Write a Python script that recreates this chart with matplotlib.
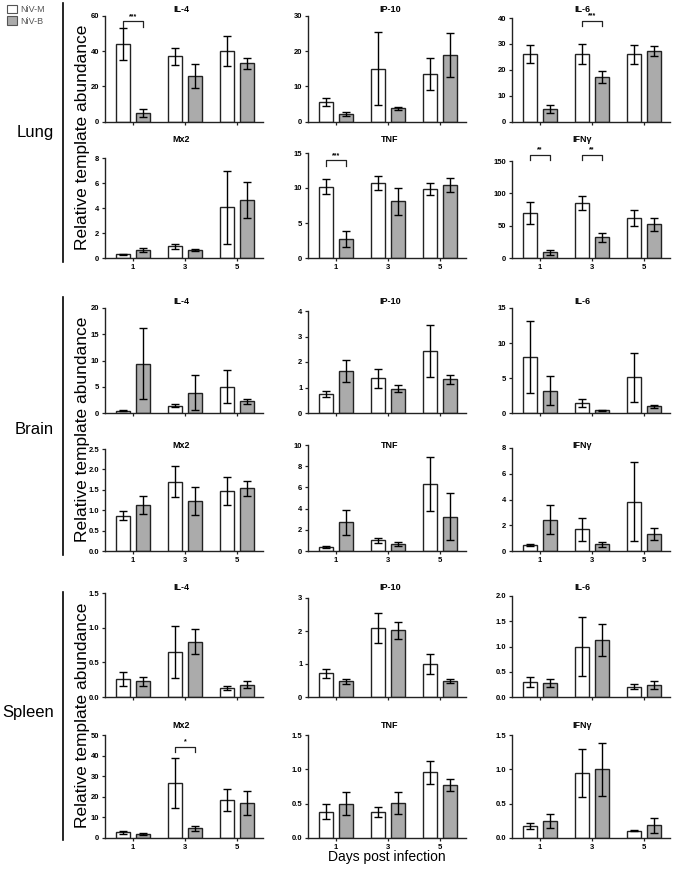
import numpy as np
import matplotlib
matplotlib.use('Agg')
import matplotlib.pyplot as plt
from matplotlib.patches import Patch

plt.rcParams['font.family'] = ['Liberation Sans', 'DejaVu Sans']

# ---------------- data ----------------
days = ['1', '3', '5']
series = ['NiV-M', 'NiV-B']
organs = ['Lung', 'Brain', 'Spleen']
cytokines = ['IL-4', 'IP-10', 'IL-6', 'Mx2', 'TNF', 'IFNγ']

# order of inner lists follows `cytokines`; values per day 1, 3, 5
lung_m = [[44, 37, 40], [5.5, 15, 13.5], [26, 26, 26], [0.3, 0.93, 4.05], [10.2, 10.7, 9.85], [69, 85, 62.5]]
lung_m_err = [[9, 5, 8.4], [1.2, 10.4, 4.6], [3.5, 3.8, 3.6], [0.05, 0.18, 2.9], [1.1, 1.0, 0.8], [17, 11.5, 12.5]]
lung_b = [[5, 26, 33], [2.1, 3.7, 19], [4.8, 17.2, 27.2], [0.62, 0.64, 4.65], [2.7, 8.1, 10.5], [9, 32, 52]]
lung_b_err = [[2.3, 6.7, 3.3], [0.5, 0.5, 6.3], [1.6, 2.5, 1.9], [0.17, 0.08, 1.47], [1.1, 1.9, 1.0], [4, 6.6, 9.5]]

brain_m = [[0.45, 1.4, 5.0], [0.75, 1.36, 2.42], [8.0, 1.4, 5.1], [0.87, 1.7, 1.47], [0.38, 1.0, 6.35], [0.47, 1.69, 3.84]]
brain_m_err = [[0.1, 0.3, 3.1], [0.13, 0.36, 1.02], [5.1, 0.55, 3.5], [0.12, 0.38, 0.34], [0.05, 0.23, 2.56], [0.1, 0.91, 3.1]]
brain_b = [[9.4, 3.9, 2.2], [1.65, 0.96, 1.32], [3.2, 0.38, 0.95], [1.12, 1.23, 1.54], [2.7, 0.69, 3.24], [2.42, 0.52, 1.3]]
brain_b_err = [[6.8, 3.3, 0.5], [0.42, 0.14, 0.18], [2.1, 0.1, 0.24], [0.22, 0.35, 0.18], [1.2, 0.19, 2.2], [1.12, 0.2, 0.45]]

spleen_m = [[0.26, 0.65, 0.125], [0.72, 2.1, 1.0], [0.3, 1.0, 0.2], [2.7, 26.6, 18.5], [0.38, 0.38, 0.955], [0.175, 0.95, 0.107]]
spleen_m_err = [[0.1, 0.37, 0.03], [0.13, 0.45, 0.3], [0.095, 0.58, 0.05], [0.55, 12.1, 5.2], [0.11, 0.07, 0.17], [0.037, 0.35, 0.01]]
spleen_b = [[0.23, 0.8, 0.18], [0.48, 2.02, 0.48], [0.275, 1.13, 0.24], [1.95, 4.7, 17], [0.5, 0.51, 0.77], [0.243, 1.0, 0.185]]
spleen_b_err = [[0.065, 0.18, 0.045], [0.08, 0.25, 0.07], [0.075, 0.31, 0.08], [0.45, 1.2, 6], [0.17, 0.16, 0.09], [0.1, 0.39, 0.105]]

# y-axis top and tick step per panel
lung_ymax = [60, 30, 40, 8, 15, 150]
lung_ystep = [20, 10, 10, 2, 5, 50]
brain_ymax = [20, 4, 15, 2.5, 10, 8]
brain_ystep = [5, 1, 5, 0.5, 2, 2]
spleen_ymax = [1.5, 3, 2.0, 50, 1.5, 1.5]
spleen_ystep = [0.5, 1, 0.5, 10, 0.5, 0.5]

# significance: organ, cytokine, day index, label, bracket height (data units)
sig_marks = [
    ('Lung', 'IL-4', 0, '***', 57),
    ('Lung', 'IL-6', 1, '***', 39),
    ('Lung', 'TNF', 0, '***', 14),
    ('Lung', 'IFNγ', 0, '**', 160),
    ('Lung', 'IFNγ', 1, '**', 160),
    ('Spleen', 'Mx2', 1, '*', 44.4),
]

organ_data = {
    'Lung': (lung_m, lung_m_err, lung_b, lung_b_err, lung_ymax, lung_ystep),
    'Brain': (brain_m, brain_m_err, brain_b, brain_b_err, brain_ymax, brain_ystep),
    'Spleen': (spleen_m, spleen_m_err, spleen_b, spleen_b_err, spleen_ymax, spleen_ystep),
}

# ---------------- layout (pixels) ----------------
W, H = 677, 876
col_left = [105, 308, 512]
ax_w = 158
panel_tops = {'Lung': [[16, 16, 18], [158, 153, 161]],
              'Brain': [[308, 311, 308], [449, 445, 448]],
              'Spleen': [[593, 598, 596], [735, 735, 735]]}
panel_bottoms = {'Lung': [121.5, 258], 'Brain': [413, 551], 'Spleen': [697, 838]}
title_y = {'Lung': [9, 140], 'Brain': [302, 446], 'Spleen': [588, 725]}
title_x = [181, 390, 582]
organ_label_y = {'Lung': 133, 'Brain': 430, 'Spleen': 713}
organ_line = {'Lung': (3, 262), 'Brain': (297, 555), 'Spleen': (592, 840)}

edge = '#222222'
gray = '#ababab'

fig = plt.figure(figsize=(W / 100, H / 100), dpi=100)


def fx(px):
    return px / W


def fy(py):
    return 1 - py / H


x = np.arange(len(days))
off = 0.19
bw = 0.26
axes = {}
for organ in organs:
    m, me, b, be, ymax, ystep = organ_data[organ]
    for r in range(2):
        for c in range(3):
            k = r * 3 + c
            top = panel_tops[organ][r][c]
            bot = panel_bottoms[organ][r]
            ax = fig.add_axes([fx(col_left[c]), fy(bot), ax_w / W, (bot - top) / H])
            axes[(organ, cytokines[k])] = ax
            ax.bar(x - off, m[k], bw, color='white', edgecolor=edge, linewidth=1.0, zorder=2)
            ax.bar(x + off, b[k], bw, color=gray, edgecolor=edge, linewidth=1.0, zorder=2)
            ax.errorbar(x - off, m[k], yerr=me[k], fmt='none', ecolor='black', elinewidth=1.0,
                        capsize=2.6, capthick=1.0, zorder=3, clip_on=False)
            ax.errorbar(x + off, b[k], yerr=be[k], fmt='none', ecolor='black', elinewidth=1.0,
                        capsize=2.6, capthick=1.0, zorder=3, clip_on=False)
            ax.set_xlim(-0.54, 2.5)
            ax.set_ylim(0, ymax[k])
            ticks = np.arange(0, ymax[k] + ystep[k] / 2, ystep[k])
            ax.set_yticks(ticks)
            if ystep[k] < 1:
                ax.set_yticklabels([f'{t:.1f}' for t in ticks])
            else:
                ax.set_yticklabels([f'{t:g}' for t in ticks])
            ax.set_xticks(x)
            if r == 1:
                ax.set_xticklabels(days)
            else:
                ax.set_xticklabels([])
            for s in ['top', 'right']:
                ax.spines[s].set_visible(False)
            for s in ['left', 'bottom']:
                ax.spines[s].set_color(edge)
                ax.spines[s].set_linewidth(1.0)
            ax.tick_params(axis='both', direction='out', length=2.5, width=0.9, color=edge,
                           labelsize=5.5, pad=1.5)
            for lab in ax.get_yticklabels() + ax.get_xticklabels():
                lab.set_fontweight('bold')
            ax.patch.set_visible(False)
            fig.text(fx(title_x[c]), fy(title_y[organ][r]), cytokines[k], ha='center', va='center',
                     fontsize=6.5, fontweight='bold')

# significance brackets
for organ, cyt, d, lab, yb in sig_marks:
    ax = axes[(organ, cyt)]
    ymax = ax.get_ylim()[1]
    leg = 0.055 * ymax
    ax.plot([d - off, d - off, d + off, d + off], [yb - leg, yb, yb, yb - leg], color=edge,
            linewidth=0.9, clip_on=False, zorder=4)
    ax.text(d, yb + 0.01 * ymax, lab, ha='center', va='bottom', fontsize=5, fontweight='bold',
            clip_on=False)

# organ labels, separators and y labels
for organ in organs:
    fig.text(fx(54), fy(organ_label_y[organ]), organ, ha='right', va='center', fontsize=12)
    y0, y1 = organ_line[organ]
    fig.add_artist(plt.Line2D([fx(63), fx(63)], [fy(y0), fy(y1)], color='black', linewidth=1.2,
                              transform=fig.transFigure))
    yc = 0.5 * (panel_tops[organ][0][0] + panel_bottoms[organ][1])
    fig.text(fx(82), fy(yc), 'Relative template abundance', rotation=90, ha='center', va='center',
             fontsize=12.5)

fig.text(fx(387), fy(857), 'Days post infection', ha='center', va='center', fontsize=10)

# legend
handles = [Patch(facecolor='white', edgecolor='#555555', linewidth=0.8, label=series[0]),
           Patch(facecolor=gray, edgecolor='#555555', linewidth=0.8, label=series[1])]
fig.legend(handles=handles, loc='upper left', bbox_to_anchor=(fx(3), fy(1)), frameon=False,
           fontsize=6.5, handlelength=1.1, handleheight=1.1, handletextpad=0.4, labelspacing=0.25,
           labelcolor='#555555', borderaxespad=0)

fig.savefig('out.png', dpi=100)
